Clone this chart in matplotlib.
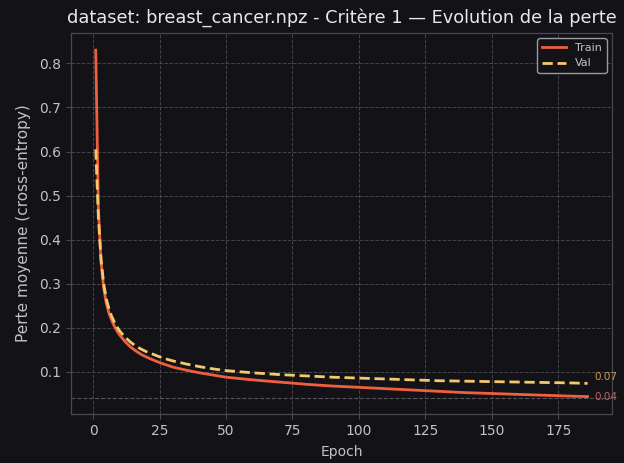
import matplotlib
matplotlib.use("Agg")
import matplotlib.pyplot as plt
import numpy as np

# Training log (mean cross-entropy per epoch)
epochs = [1, 2, 3, 4, 5, 6, 7, 8, 9, 10, 12, 14, 16, 18, 20, 23, 26, 30, 35, 40,
          45, 50, 60, 70, 80, 90, 100, 110, 120, 130, 140, 150, 160, 170, 180, 186]
train_loss = [0.830, 0.470, 0.350, 0.290, 0.255, 0.233, 0.217, 0.204, 0.193, 0.184,
              0.169, 0.157, 0.148, 0.140, 0.134, 0.126, 0.119, 0.111, 0.104, 0.098,
              0.093, 0.088, 0.082, 0.077, 0.072, 0.068, 0.065, 0.062, 0.059, 0.056,
              0.053, 0.051, 0.049, 0.047, 0.045, 0.044]
val_loss = [0.605, 0.450, 0.355, 0.300, 0.265, 0.243, 0.226, 0.213, 0.202, 0.193,
            0.179, 0.168, 0.159, 0.152, 0.146, 0.139, 0.132, 0.125, 0.118, 0.112,
            0.107, 0.103, 0.098, 0.094, 0.091, 0.088, 0.086, 0.084, 0.082, 0.080,
            0.079, 0.078, 0.077, 0.076, 0.075, 0.074]

BG = "#131217"
FG = "#c2c2c6"
TRAIN_C = "#f0603e"
VAL_C = "#f3c96c"

fig = plt.figure(figsize=(6.24, 4.63), dpi=100, facecolor=BG)
ax = fig.add_axes([0.114, 0.106, 0.867, 0.823], facecolor=BG)

ax.plot(epochs, train_loss, color=TRAIN_C, lw=2.0, label="Train")
ax.plot(epochs, val_loss, color=VAL_C, lw=2.0, ls=(0, (3.7, 1.7)), label="Val")

ax.axhline(min(train_loss) - 0.004, color="#55545a", lw=0.8, ls="--", zorder=0)

ax.annotate(f"{val_loss[-1]:.2f}", (epochs[-1], val_loss[-1]), xytext=(5, 1),
            textcoords="offset points", color="#c9a055", fontsize=7.5,
            ha="left", va="bottom")
ax.annotate(f"{train_loss[-1]:.2f}", (epochs[-1], train_loss[-1]), xytext=(5, 0),
            textcoords="offset points", color="#c8606a", fontsize=7.5,
            ha="left", va="center")

ax.grid(True, color="#5a5960", ls="--", lw=0.7, alpha=0.7)
ax.set_axisbelow(True)
for s in ax.spines.values():
    s.set_color("#4a494f")
    s.set_linewidth(0.9)

ax.set_xticks([0, 25, 50, 75, 100, 125, 150, 175])
ax.set_yticks([0.1, 0.2, 0.3, 0.4, 0.5, 0.6, 0.7, 0.8])
ax.tick_params(colors="#4a494f", labelcolor=FG, labelsize=10)

ax.set_xlabel("Epoch", color=FG, fontsize=10, labelpad=5)
ax.set_ylabel("Perte moyenne (cross-entropy)", color=FG, fontsize=11, labelpad=6)
ax.set_title("dataset: breast_cancer.npz - Critère 1 — Evolution de la perte",
             color="#e8e8ea", fontsize=12.8, pad=7)

leg = ax.legend(loc="upper right", fontsize=8, facecolor=BG, edgecolor="#9a999e",
                framealpha=1.0, labelcolor=FG, handlelength=2.2)
leg.get_frame().set_linewidth(1.0)

fig.savefig("out.png", dpi=100, facecolor=BG)
